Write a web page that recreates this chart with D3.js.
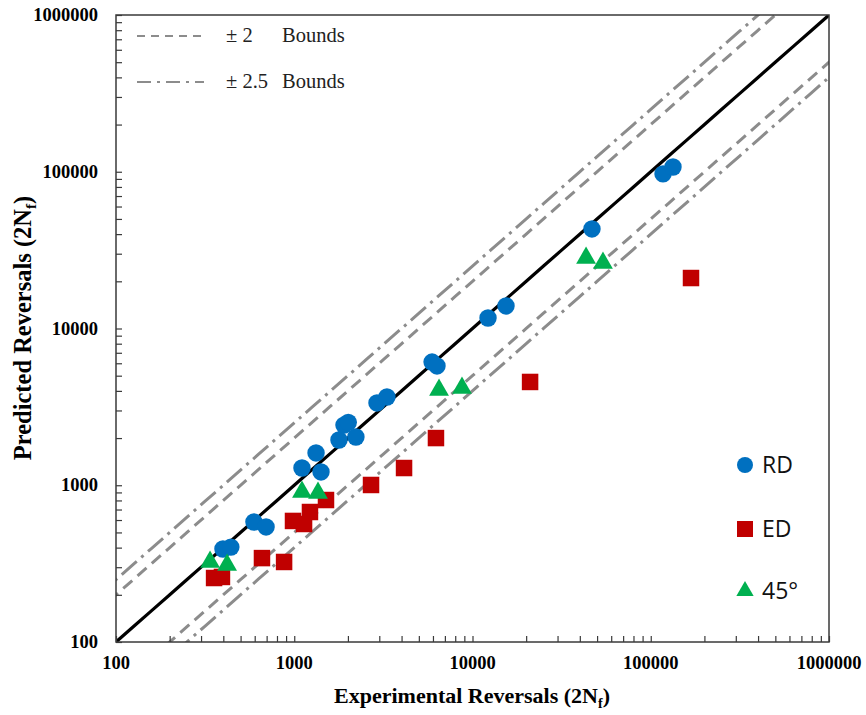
<!DOCTYPE html>
<html><head><meta charset="utf-8">
<script src="https://cdn.jsdelivr.net/npm/d3@7"></script>
<style>body{margin:0;background:#fff}</style>
</head><body>
<svg id="chart" width="866" height="715"></svg>
<script>
// Data (experimental, predicted)
const rdExp  = [398, 441, 594, 695, 1105, 1325, 1413, 1782, 1900, 2010, 2218, 2911, 3311, 5930, 6323, 12220, 15420, 46800, 117200, 133300];
const rdPred = [392, 403, 583, 542, 1288, 1607, 1216, 1944, 2420, 2520, 2032, 3350, 3656, 6110, 5770, 11670, 13930, 43150, 96900, 107200];
const edExp  = [355, 393, 659, 877, 984, 1135, 1225, 1507, 2696, 4130, 6238, 21040, 168200];
const edPred = [256, 260, 343, 324, 592, 566, 675, 805, 1004, 1288, 2000, 4560, 20990];
const t45Exp  = [337, 420, 1105, 1359, 6490, 8730, 43360, 53950];
const t45Pred = [324, 310, 906, 893, 4055, 4170, 28180, 26180];
const tickValues = [100, 1000, 10000, 100000, 1000000];
const tickLabels = ["100", "1000", "10000", "100000", "1000000"];
const boundFactors = [2, 2.5];
const seriesNames = ["RD", "ED", "45°"];

const svg = d3.select("#chart");
const L = 116, R = 829, T = 15, B = 642;
const x = d3.scaleLog().domain([100, 1e6]).range([L, R]);
const y = d3.scaleLog().domain([100, 1e6]).range([B, T]);

const colors = {RD: "#0070C0", ED: "#C00000", T: "#00B050"};

svg.append("defs").append("clipPath").attr("id", "clip")
  .append("rect").attr("x", L).attr("y", T).attr("width", R - L).attr("height", B - T);

const plot = svg.append("g").attr("clip-path", "url(#clip)");
const lineGen = f => d3.line()(d3.range(0, 61).map(i => {
  const v = Math.pow(10, 1 + i * 0.1);
  return [x(v), y(v * f)];
}));

// bounds
const dashStyles = {2: "12,7", 2.5: "20,6,3,6"};
boundFactors.forEach(b => {
  [b, 1 / b].forEach(f => {
    plot.append("path").attr("d", lineGen(f)).attr("fill", "none")
      .attr("stroke", "#8c8c8c").attr("stroke-width", 3)
      .attr("stroke-dasharray", dashStyles[b]);
  });
});
// 1:1 line
plot.append("path").attr("d", lineGen(1)).attr("fill", "none")
  .attr("stroke", "#000").attr("stroke-width", 3.2);

// markers
const circ = d3.symbol().type(d3.symbolCircle).size(Math.PI * 8.7 * 8.7);
const sq = d3.symbol().type(d3.symbolSquare).size(16.5 * 16.5);
const tri = d3.symbol().type(d3.symbolTriangle).size(170);

edExp.forEach((e, i) => {
  svg.append("path").attr("d", sq()).attr("fill", colors.ED)
    .attr("transform", `translate(${x(e)},${y(edPred[i])})`);
});
rdExp.forEach((e, i) => {
  svg.append("path").attr("d", circ()).attr("fill", colors.RD)
    .attr("transform", `translate(${x(e)},${y(rdPred[i])})`);
});
t45Exp.forEach((e, i) => {
  svg.append("path").attr("d", tri()).attr("fill", colors.T)
    .attr("transform", `translate(${x(e)},${y(t45Pred[i])})`);
});

// frame
svg.append("rect").attr("x", L).attr("y", T).attr("width", R - L).attr("height", B - T)
  .attr("fill", "none").attr("stroke", "#3a3a3a").attr("stroke-width", 1.5);

// minor ticks
const allTicks = [];
for (let d = 2; d < 6; d++) for (let m = 1; m <= 9; m++) allTicks.push(m * Math.pow(10, d));
allTicks.push(1e6);
const xAxis = d3.axisTop(x).tickValues(allTicks).tickSize(6).tickFormat("");
svg.append("g").attr("transform", `translate(0,${B})`).call(xAxis)
  .call(g => g.select(".domain").remove())
  .selectAll("line").attr("stroke", "#3a3a3a").attr("stroke-width", 1.2);
const yAxis = d3.axisRight(y).tickValues(allTicks).tickSize(6).tickFormat("");
svg.append("g").attr("transform", `translate(${L},0)`).call(yAxis)
  .call(g => g.select(".domain").remove())
  .selectAll("line").attr("stroke", "#3a3a3a").attr("stroke-width", 1.2);

// tick labels
const lblFont = "'Liberation Serif','Times New Roman',serif";
tickValues.forEach((v, i) => {
  svg.append("text").attr("x", x(v)).attr("y", 669).attr("text-anchor", "middle")
    .attr("font-family", lblFont).attr("font-weight", "bold").attr("font-size", 18.5)
    .text(tickLabels[i]);
  svg.append("text").attr("x", 98).attr("y", y(v) + 6).attr("text-anchor", "end")
    .attr("font-family", lblFont).attr("font-weight", "bold").attr("font-size", 18.5)
    .text(tickLabels[i]);
});

// axis titles
const xt = svg.append("text").attr("x", 472).attr("y", 703).attr("text-anchor", "middle")
  .attr("font-family", lblFont).attr("font-weight", "bold").attr("font-size", 22);
xt.append("tspan").text("Experimental Reversals (2N");
xt.append("tspan").attr("font-size", 14).attr("dy", 5).text("f");
xt.append("tspan").attr("dy", -5).text(")");

const yt = svg.append("text").attr("transform", "translate(31,328) rotate(-90)")
  .attr("text-anchor", "middle")
  .attr("font-family", lblFont).attr("font-weight", "bold").attr("font-size", 24.5);
yt.append("tspan").text("Predicted Reversals (2N");
yt.append("tspan").attr("font-size", 15).attr("dy", 5).text("f");
yt.append("tspan").attr("dy", -5).text(")");

// top-left legend
const legY = [36, 82];
boundFactors.forEach((b, i) => {
  svg.append("line").attr("x1", 137).attr("x2", 204).attr("y1", legY[i]).attr("y2", legY[i])
    .attr("stroke", "#8c8c8c").attr("stroke-width", 2)
    .attr("stroke-dasharray", i === 0 ? "8,6" : "14,6,3,6");
  svg.append("text").attr("x", 226).attr("y", legY[i] + 6)
    .attr("font-family", lblFont).attr("font-size", 20.5).attr("fill", "#222")
    .text("± " + b);
  svg.append("text").attr("x", 282).attr("y", legY[i] + 6)
    .attr("font-family", lblFont).attr("font-size", 20.5).attr("fill", "#222")
    .text("Bounds");
});

// bottom-right legend
const lgY = [465, 529, 591];
const lgSym = [
  d3.symbol().type(d3.symbolCircle).size(Math.PI * 8 * 8),
  d3.symbol().type(d3.symbolSquare).size(16 * 16),
  d3.symbol().type(d3.symbolTriangle).size(130)
];
const lgCol = [colors.RD, colors.ED, colors.T];
seriesNames.forEach((s, i) => {
  svg.append("path").attr("d", lgSym[i]()).attr("fill", lgCol[i])
    .attr("transform", `translate(745,${lgY[i]})`);
  svg.append("text").attr("x", 762).attr("y", lgY[i] + 8)
    .attr("font-family", "'Open Sans','Liberation Sans',sans-serif").attr("font-size", 23)
    .attr("fill", "#111").text(s);
});
</script>
</body></html>
